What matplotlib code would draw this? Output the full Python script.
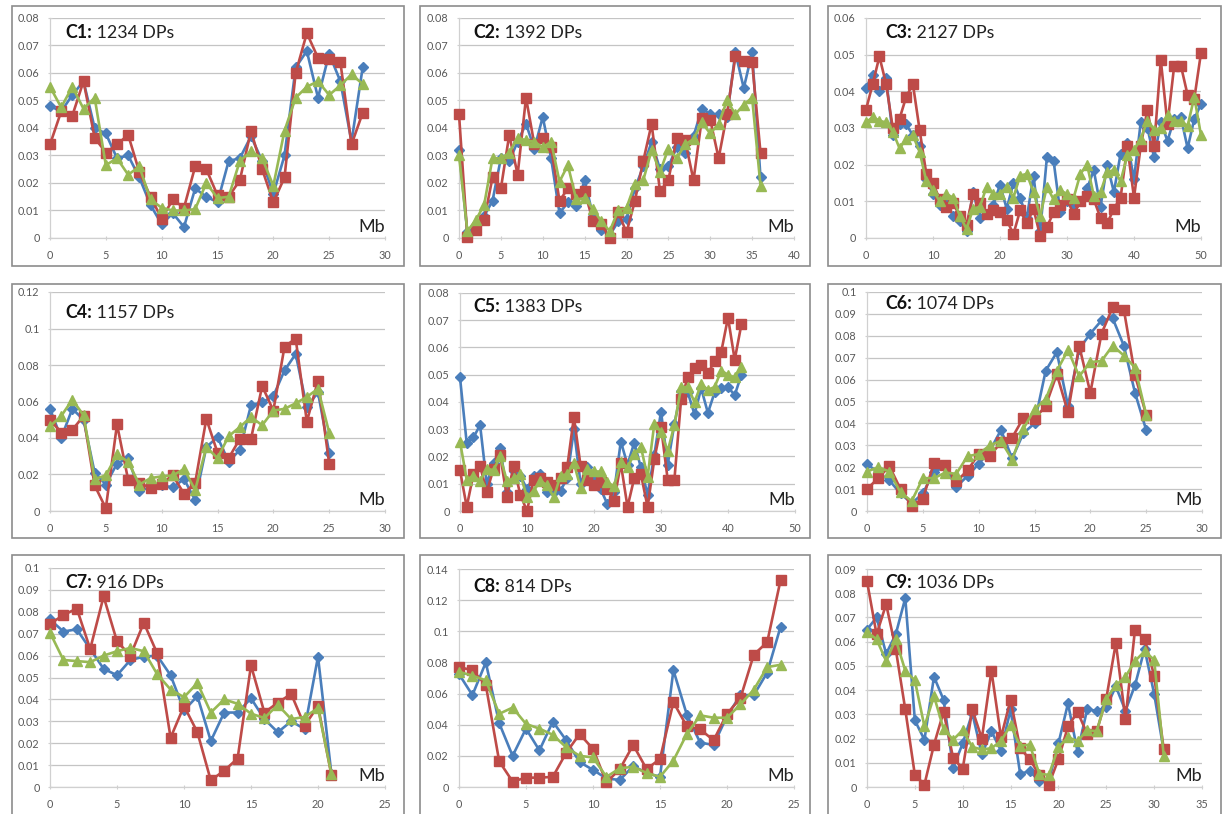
import matplotlib
matplotlib.use('Agg')
import matplotlib.pyplot as plt
from matplotlib.patches import Rectangle

plt.rcParams['font.family'] = ['Lato', 'DejaVu Sans']

W, H = 1225, 814

# ---- data ----
names = ['C1', 'C2', 'C3', 'C4', 'C5', 'C6', 'C7', 'C8', 'C9']
dps = ['1234 DPs', '1392 DPs', '2127 DPs', '1157 DPs', '1383 DPs',
       '1074 DPs', '916 DPs', '814 DPs', '1036 DPs']

c1_blue = [0.048, 0.046, 0.052, 0.057, 0.040, 0.038, 0.029, 0.030, 0.022, 0.012, 0.005, 0.009, 0.004, 0.018, 0.015,
           0.013, 0.028, 0.029, 0.037, 0.028, 0.016, 0.030, 0.062, 0.068, 0.051, 0.067, 0.057, 0.035, 0.062]
c1_red = [0.034, 0.046, 0.0445, 0.057, 0.0365, 0.031, 0.034, 0.0375, 0.024, 0.015, 0.007, 0.014, 0.011, 0.026, 0.025,
          0.0155, 0.015, 0.021, 0.039, 0.025, 0.013, 0.022, 0.060, 0.0745, 0.0655, 0.065, 0.064, 0.034, 0.0455]
c1_green = [0.055, 0.0475, 0.055, 0.047, 0.051, 0.0265, 0.029, 0.023, 0.026, 0.014, 0.011, 0.010, 0.010, 0.0105, 0.020,
            0.0145, 0.015, 0.028, 0.0315, 0.029, 0.019, 0.039, 0.051, 0.055, 0.057, 0.052, 0.0555, 0.0595, 0.056]

c2_blue = [0.032, 0.002, 0.004, 0.008, 0.0135, 0.029, 0.028, 0.035, 0.0415, 0.0325, 0.044, 0.029, 0.009, 0.013, 0.0115,
           0.021, 0.008, 0.003, 0.001, 0.006, 0.007, 0.018, 0.026, 0.035, 0.025, 0.026, 0.033, 0.031, 0.037, 0.047,
           0.045, 0.045, 0.044, 0.0675, 0.0545, 0.0675, 0.022]
c2_red = [0.045, 0.0005, 0.003, 0.0065, 0.022, 0.018, 0.0375, 0.023, 0.051, 0.034, 0.0365, 0.033, 0.0135, 0.018, 0.016,
          0.017, 0.006, 0.005, 0.0, 0.0095, 0.002, 0.0135, 0.028, 0.0415, 0.017, 0.021, 0.0365, 0.0355, 0.021, 0.0435,
          0.043, 0.029, 0.045, 0.066, 0.0645, 0.064, 0.031]
c2_green = [0.030, 0.0025, 0.0065, 0.012, 0.029, 0.029, 0.031, 0.0365, 0.0355, 0.035, 0.033, 0.035, 0.0205, 0.0265,
            0.014, 0.0145, 0.0105, 0.006, 0.0025, 0.010, 0.011, 0.0195, 0.021, 0.032, 0.024, 0.0325, 0.029, 0.034,
            0.036, 0.042, 0.038, 0.0415, 0.050, 0.045, 0.0485, 0.051, 0.019]

c3_blue = [0.041, 0.0445, 0.040, 0.0435, 0.028, 0.031, 0.031, 0.028, 0.025, 0.016, 0.012, 0.009, 0.010, 0.006, 0.0045,
           0.002, 0.0125, 0.0055, 0.0065, 0.009, 0.0145, 0.008, 0.015, 0.011, 0.0055, 0.017, 0.002, 0.022, 0.021,
           0.007, 0.010, 0.009, 0.010, 0.0135, 0.0185, 0.0085, 0.020, 0.0125, 0.023, 0.026, 0.016, 0.0315, 0.030,
           0.022, 0.0315, 0.0265, 0.0325, 0.033, 0.0245, 0.0325, 0.0365]
c3_red = [0.035, 0.042, 0.0495, 0.042, 0.030, 0.0325, 0.0385, 0.042, 0.0295, 0.0175, 0.015, 0.0105, 0.0085, 0.0095,
          0.006, 0.0035, 0.012, 0.0095, 0.0065, 0.0075, 0.007, 0.005, 0.001, 0.0075, 0.004, 0.008, 0.0005, 0.003,
          0.007, 0.009, 0.0105, 0.0065, 0.010, 0.0115, 0.0105, 0.0055, 0.004, 0.008, 0.011, 0.025, 0.011, 0.025,
          0.035, 0.025, 0.0485, 0.031, 0.047, 0.047, 0.039, 0.038, 0.0505]
c3_green = [0.0315, 0.033, 0.032, 0.0315, 0.029, 0.0245, 0.027, 0.028, 0.0235, 0.0155, 0.013, 0.010, 0.012, 0.011,
            0.006, 0.0025, 0.008, 0.0085, 0.014, 0.012, 0.012, 0.014, 0.011, 0.017, 0.0175, 0.0125, 0.006, 0.014,
            0.0105, 0.013, 0.012, 0.011, 0.0175, 0.020, 0.0115, 0.0125, 0.018, 0.0185, 0.0155, 0.0225, 0.024, 0.027,
            0.032, 0.0295, 0.030, 0.0335, 0.032, 0.032, 0.0305, 0.0385, 0.028]

c4_blue = [0.056, 0.040, 0.056, 0.050, 0.021, 0.0145, 0.026, 0.029, 0.011, 0.013, 0.014, 0.013, 0.0175, 0.006, 0.035,
           0.0405, 0.027, 0.0335, 0.058, 0.0595, 0.063, 0.077, 0.086, 0.057, 0.065, 0.032]
c4_red = [0.050, 0.043, 0.0445, 0.052, 0.014, 0.0015, 0.0475, 0.017, 0.0155, 0.0125, 0.015, 0.0195, 0.0095, 0.0155,
          0.0505, 0.032, 0.029, 0.0395, 0.0395, 0.0685, 0.055, 0.090, 0.0945, 0.049, 0.0715, 0.026]
c4_green = [0.0465, 0.052, 0.061, 0.0525, 0.0175, 0.0195, 0.031, 0.027, 0.0145, 0.018, 0.019, 0.0195, 0.023, 0.0115,
            0.035, 0.029, 0.041, 0.046, 0.0515, 0.047, 0.055, 0.056, 0.059, 0.0625, 0.067, 0.043]

c5_blue = [0.049, 0.025, 0.027, 0.0315, 0.010, 0.0175, 0.023, 0.007, 0.0145, 0.013, 0.008, 0.013, 0.0135, 0.007, 0.007,
           0.0075, 0.012, 0.030, 0.010, 0.016, 0.0125, 0.008, 0.0025, 0.007, 0.0255, 0.017, 0.025, 0.016, 0.006,
           0.0205, 0.0365, 0.017, 0.032, 0.044, 0.0435, 0.0355, 0.045, 0.036, 0.0435, 0.045, 0.0455, 0.0425, 0.050]
c5_red = [0.015, 0.0015, 0.0135, 0.0165, 0.007, 0.0155, 0.0205, 0.005, 0.0165, 0.006, 0.0, 0.0115, 0.012, 0.0105,
          0.0095, 0.012, 0.016, 0.0345, 0.0165, 0.0115, 0.0095, 0.0105, 0.008, 0.0035, 0.0175, 0.0015, 0.012, 0.0135,
          0.0015, 0.019, 0.031, 0.0115, 0.0115, 0.041, 0.049, 0.0525, 0.0535, 0.0505, 0.055, 0.0585, 0.071, 0.0555,
          0.0685]
c5_green = [0.0255, 0.0115, 0.013, 0.011, 0.0155, 0.015, 0.020, 0.011, 0.012, 0.0135, 0.005, 0.0075, 0.011, 0.0095,
            0.005, 0.013, 0.0135, 0.0175, 0.0085, 0.0155, 0.0145, 0.0145, 0.0105, 0.009, 0.018, 0.016, 0.021, 0.0235,
            0.0125, 0.032, 0.029, 0.022, 0.0315, 0.0455, 0.0455, 0.040, 0.0465, 0.0445, 0.0455, 0.0515, 0.050, 0.049,
            0.053]

c6_blue = [0.0215, 0.0175, 0.014, 0.008, 0.0035, 0.008, 0.018, 0.020, 0.011, 0.016, 0.0215, 0.0275, 0.037, 0.024,
           0.0355, 0.040, 0.064, 0.0725, 0.048, 0.074, 0.081, 0.087, 0.088, 0.0755, 0.054, 0.037]
c6_red = [0.010, 0.015, 0.0205, 0.010, 0.0025, 0.0055, 0.022, 0.021, 0.0135, 0.0185, 0.026, 0.025, 0.0315, 0.0335,
          0.0425, 0.042, 0.048, 0.0625, 0.045, 0.0755, 0.054, 0.081, 0.093, 0.092, 0.062, 0.044]
c6_green = [0.018, 0.020, 0.018, 0.0085, 0.0045, 0.015, 0.015, 0.0175, 0.017, 0.025, 0.026, 0.030, 0.032, 0.0235,
            0.0375, 0.0465, 0.051, 0.064, 0.0735, 0.0615, 0.068, 0.0685, 0.0755, 0.071, 0.0655, 0.044]

c7_blue = [0.0765, 0.071, 0.072, 0.063, 0.054, 0.051, 0.058, 0.0595, 0.060, 0.051, 0.035, 0.0415, 0.021, 0.034, 0.034,
           0.0405, 0.031, 0.025, 0.030, 0.0265, 0.0595, 0.006]
c7_red = [0.0745, 0.0785, 0.0815, 0.063, 0.087, 0.0665, 0.060, 0.075, 0.061, 0.0225, 0.037, 0.025, 0.003, 0.0075,
          0.013, 0.0555, 0.034, 0.0385, 0.0425, 0.028, 0.037, 0.0055]
c7_green = [0.0705, 0.058, 0.0575, 0.057, 0.060, 0.062, 0.0635, 0.062, 0.0515, 0.0445, 0.041, 0.0475, 0.034, 0.040,
            0.038, 0.0335, 0.0315, 0.0375, 0.031, 0.032, 0.036, 0.006]

c8_blue = [0.0725, 0.059, 0.080, 0.041, 0.020, 0.0375, 0.0235, 0.042, 0.030, 0.016, 0.011, 0.0055, 0.0045, 0.0135,
           0.009, 0.0065, 0.075, 0.0465, 0.0285, 0.027, 0.0455, 0.059, 0.059, 0.0735, 0.103]
c8_red = [0.077, 0.075, 0.0655, 0.0165, 0.0035, 0.006, 0.006, 0.0065, 0.022, 0.034, 0.0245, 0.003, 0.0115, 0.027,
          0.0115, 0.018, 0.0545, 0.039, 0.037, 0.030, 0.047, 0.057, 0.085, 0.093, 0.133]
c8_green = [0.074, 0.0715, 0.0685, 0.047, 0.051, 0.0405, 0.0375, 0.0335, 0.0255, 0.020, 0.019, 0.0065, 0.012, 0.013,
            0.009, 0.0065, 0.017, 0.034, 0.046, 0.0445, 0.0445, 0.053, 0.0625, 0.077, 0.0785]

c9_blue = [0.065, 0.070, 0.055, 0.063, 0.078, 0.0275, 0.0195, 0.0455, 0.036, 0.008, 0.018, 0.0305, 0.0135, 0.023,
           0.015, 0.032, 0.0055, 0.0065, 0.0025, 0.0025, 0.018, 0.0345, 0.0145, 0.032, 0.0315, 0.033, 0.0415, 0.0315,
           0.042, 0.057, 0.0385, 0.015]
c9_red = [0.085, 0.063, 0.0755, 0.057, 0.032, 0.005, 0.001, 0.0175, 0.031, 0.012, 0.0075, 0.032, 0.020, 0.048, 0.0205,
          0.036, 0.016, 0.0115, 0.005, 0.001, 0.0115, 0.025, 0.031, 0.022, 0.023, 0.0365, 0.0595, 0.028, 0.065, 0.061,
          0.046, 0.0155]
c9_green = [0.064, 0.061, 0.052, 0.061, 0.048, 0.044, 0.025, 0.0375, 0.024, 0.0195, 0.0235, 0.0165, 0.0155, 0.016,
            0.019, 0.0255, 0.017, 0.0175, 0.0055, 0.005, 0.0165, 0.0205, 0.019, 0.0235, 0.023, 0.0365, 0.042, 0.0455,
            0.052, 0.056, 0.0525, 0.013]

blues = [c1_blue, c2_blue, c3_blue, c4_blue, c5_blue, c6_blue, c7_blue, c8_blue, c9_blue]
reds = [c1_red, c2_red, c3_red, c4_red, c5_red, c6_red, c7_red, c8_red, c9_red]
greens = [c1_green, c2_green, c3_green, c4_green, c5_green, c6_green, c7_green, c8_green, c9_green]

x_max = [30, 40, 50, 30, 50, 30, 25, 25, 35]
x_step = [5, 5, 10, 5, 10, 5, 5, 5, 5]
y_max = [0.08, 0.08, 0.06, 0.12, 0.08, 0.1, 0.1, 0.14, 0.09]
y_step = [0.01, 0.01, 0.01, 0.02, 0.01, 0.01, 0.01, 0.02, 0.01]

# ---- layout in pixels: axes (left, top, right, bottom), title position ----
axes_px = [(50, 18, 385, 238), (459, 18, 794, 238), (866, 18, 1201, 238),
           (50, 292, 385, 511), (460, 293, 795, 511), (867, 292, 1202, 511),
           (50, 568, 385, 787), (459, 569, 794, 787), (867, 569, 1202, 787)]
title_px = [(65, 33), (473, 33), (885, 33),
            (65, 312), (473, 307), (885, 303),
            (65, 582), (473, 587), (885, 583)]
box_cols = [(12, 404), (420, 810), (828, 1221)]
box_rows = [(6, 266), (284, 538), (555, 830)]

BLUE = '#4a7ebb'
RED = '#be4b48'
GREEN = '#98b954'

fig = plt.figure(figsize=(W / 100, H / 100), dpi=100)
fig.patch.set_facecolor('white')

for r, (t, b) in enumerate(box_rows):
    for c, (l, rr) in enumerate(box_cols):
        fig.patches.append(Rectangle((l / W, 1 - b / H), (rr - l) / W, (b - t) / H,
                                     transform=fig.transFigure, fill=False,
                                     edgecolor='#8c8c8c', linewidth=1.2))

for i in range(9):
    l, t, rr, b = axes_px[i]
    ax = fig.add_axes([l / W, 1 - b / H, (rr - l) / W, (b - t) / H])
    xs = list(range(len(blues[i])))
    ax.plot(xs, blues[i], color=BLUE, lw=1.9, marker='D', ms=5.5, zorder=3)
    ax.plot(xs, reds[i], color=RED, lw=1.9, marker='s', ms=7, zorder=4)
    ax.plot(xs, greens[i], color=GREEN, lw=1.9, marker='^', ms=7, zorder=5)

    ax.set_xlim(0, x_max[i])
    ax.set_ylim(0, y_max[i])
    ax.set_xticks([k * x_step[i] for k in range(int(round(x_max[i] / x_step[i])) + 1)])
    yt = [round(k * y_step[i], 4) for k in range(int(round(y_max[i] / y_step[i])) + 1)]
    ax.set_yticks(yt)
    ax.set_yticklabels([f'{v:g}' for v in yt])
    ax.yaxis.grid(True, color='#c4c4c4', lw=0.9)
    ax.set_axisbelow(True)
    for s in ['top', 'right']:
        ax.spines[s].set_visible(False)
    for s in ['left', 'bottom']:
        ax.spines[s].set_color('#d0d0d0')
        ax.spines[s].set_linewidth(0.9)
    ax.tick_params(axis='both', labelsize=7.8, colors='#595959', length=3,
                   width=0.8, direction='inout')
    ax.tick_params(axis='x', pad=7)
    ax.tick_params(axis='y', pad=6)
    ax.tick_params(axis='both', color='#d0d0d0')
    for line in ax.lines:
        line.set_clip_on(False)

    ax.text(1.0, 0.015, 'Mb', transform=ax.transAxes, ha='right', va='bottom',
            fontsize=13, color='#222222')

    tx, ty = title_px[i]
    t1 = fig.text(tx / W, 1 - ty / H, names[i] + ':', fontsize=12.8, fontweight='bold',
                  ha='left', va='center', color='#111111')
    ax.annotate(' ' + dps[i], xy=(1, 0), xycoords=t1, ha='left', va='bottom',
                fontsize=12.8, color='#222222')

fig.savefig('out.png', dpi=100, facecolor='white')
